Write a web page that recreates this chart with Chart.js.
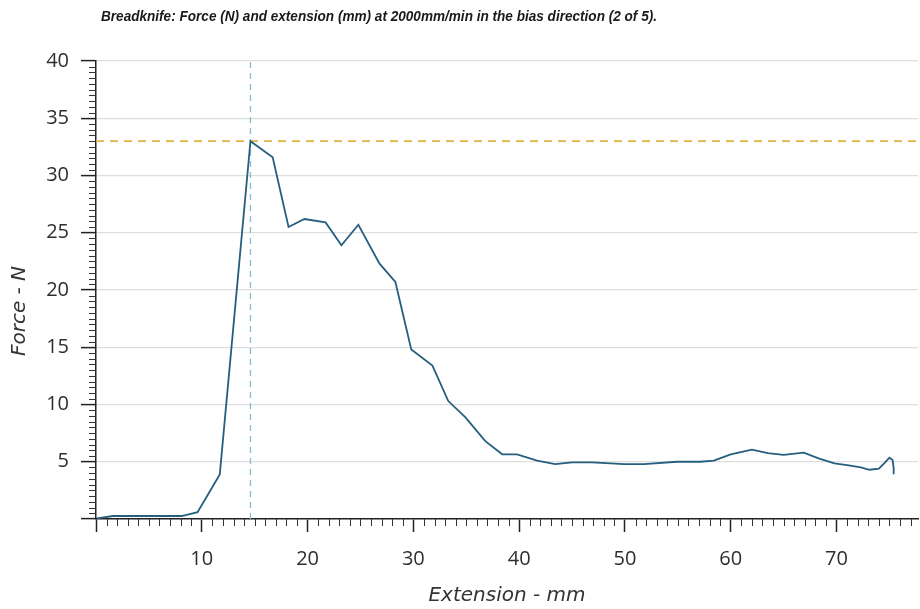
<!DOCTYPE html>
<html>
<head>
<meta charset="utf-8">
<title>Breadknife force / extension</title>
<script src="https://cdn.jsdelivr.net/npm/chart.js@4.4.1/dist/chart.umd.min.js"></script>
<style>
  html, body { margin: 0; padding: 0; background: #fff; }
  #wrap { width: 920px; height: 609px; }
</style>
</head>
<body>
<div id="wrap"><canvas id="chart" width="920" height="609"></canvas></div>
<script>
const heading = 'Breadknife: Force (N) and extension (mm) at 2000mm/min in the bias direction (2 of 5).';
const xTitle = 'Extension - mm';
const yTitle = 'Force - N';

// test run 2 of 5, sampled along the trace
const extensionMm = [0.1, 1.6, 8.1, 9.6, 11.7, 14.6, 16.7, 18.2, 19.7, 21.7, 23.2, 24.8, 26.8, 28.3,
  29.8, 31.8, 33.3, 34.9, 36.8, 38.4, 39.8, 41.7, 43.4, 45.0, 46.9, 49.9, 51.8, 54.9, 57.1, 58.4,
  60.0, 62.0, 63.5, 65.0, 66.9, 68.3, 69.8, 71.0, 72.3, 73.1, 74.0, 74.5, 75.0, 75.3, 75.4, 75.4];
const forceN = [0.05, 0.26, 0.26, 0.6, 3.9, 33.0, 31.6, 25.5, 26.2, 25.9, 23.9, 25.7, 22.3, 20.7,
  14.8, 13.4, 10.3, 8.9, 6.8, 5.65, 5.65, 5.1, 4.8, 4.95, 4.95, 4.8, 4.8, 5.0, 5.0, 5.1,
  5.65, 6.05, 5.75, 5.6, 5.8, 5.3, 4.85, 4.7, 4.5, 4.3, 4.4, 4.85, 5.35, 5.15, 4.45, 3.9];

// cursor lines through the maximum
const peakExtension = 14.6;
const peakForce = 33.0;

const xMin = 0, xMax = 77.7, xStep = 10, xMinorStep = 1;
const yMin = 0, yMax = 40, yStep = 5, yMinorStep = 0.5;

const trace = extensionMm.map((x, i) => ({ x: x, y: forceN[i] }));

const tickFont = { family: '"Open Sans", "DejaVu Sans", sans-serif', size: 20 };
const titleFont = { family: '"DejaVu Sans", sans-serif', size: 20, style: 'italic' };

// small ticks between the labelled ones
const minorTicks = {
  id: 'minorTicks',
  afterDraw(chart) {
    const { ctx, chartArea } = chart;
    const x = chart.scales.x, y = chart.scales.y;
    ctx.save();
    ctx.strokeStyle = '#333';
    ctx.lineWidth = 1;
    ctx.beginPath();
    for (let i = 1; i * xMinorStep < xMax; i++) {
      const v = i * xMinorStep;
      if (Math.abs(v % xStep) < 1e-6) continue;
      const px = Math.round(x.getPixelForValue(v)) + 0.5;
      ctx.moveTo(px, chartArea.bottom);
      ctx.lineTo(px, chartArea.bottom + 7);
    }
    for (let i = 1; i * yMinorStep < yMax; i++) {
      const v = i * yMinorStep;
      if (Math.abs(v % yStep) < 1e-6) continue;
      const py = Math.round(y.getPixelForValue(v)) + 0.5;
      ctx.moveTo(chartArea.left - 7, py);
      ctx.lineTo(chartArea.left, py);
    }
    ctx.stroke();
    ctx.restore();
  }
};

// page heading and the rotated force caption
const captions = {
  id: 'captions',
  afterDraw(chart) {
    const { ctx, chartArea } = chart;
    ctx.save();
    ctx.fillStyle = '#1a1a1a';
    ctx.font = 'italic bold 14px "Liberation Sans", Arial, sans-serif';
    const w = ctx.measureText(heading).width;
    ctx.translate(101, 21);
    ctx.scale(556 / w, 1);
    ctx.fillText(heading, 0, 0);
    ctx.restore();

    ctx.save();
    ctx.fillStyle = '#333';
    ctx.font = 'italic 20px "DejaVu Sans", sans-serif';
    ctx.textAlign = 'center';
    ctx.textBaseline = 'middle';
    ctx.translate(20, (chartArea.top + chartArea.bottom) / 2 + 21);
    ctx.rotate(-Math.PI / 2);
    ctx.fillText(yTitle, 0, 0);
    ctx.restore();
  }
};

new Chart(document.getElementById('chart'), {
  type: 'scatter',
  data: {
    datasets: [
      {
        data: trace,
        showLine: true,
        borderColor: '#265f7e',
        borderWidth: 1.8,
        pointRadius: 0,
        tension: 0,
        order: 1
      },
      {
        data: [{ x: xMin, y: peakForce }, { x: xMax, y: peakForce }],
        showLine: true,
        borderColor: '#e2b445',
        borderWidth: 1.6,
        borderDash: [8, 6],
        pointRadius: 0,
        order: 2
      },
      {
        data: [{ x: peakExtension, y: yMin }, { x: peakExtension, y: yMax }],
        showLine: true,
        borderColor: '#86bcd2',
        borderWidth: 1.3,
        borderDash: [6, 5],
        pointRadius: 0,
        order: 3
      }
    ]
  },
  options: {
    responsive: false,
    animation: false,
    events: [],
    layout: { padding: { top: 61, right: 2, left: 0, bottom: 0 } },
    plugins: {
      legend: { display: false },
      tooltip: { enabled: false }
    },
    scales: {
      x: {
        type: 'linear',
        min: xMin,
        max: xMax,
        afterFit(scale) { scale.height = 90; },
        border: { color: '#222', width: 1.5 },
        grid: { drawOnChartArea: false, drawTicks: true, tickLength: 13, tickColor: '#222', tickWidth: 1.5 },
        ticks: {
          stepSize: xStep,
          includeBounds: false,
          padding: 15,
          color: '#2e2e2e',
          font: tickFont,
          maxRotation: 0,
          callback: v => (v === 0 ? '' : v)
        },
        title: {
          display: true,
          text: xTitle,
          color: '#333',
          font: titleFont,
          padding: { top: 0, bottom: 1 }
        }
      },
      y: {
        type: 'linear',
        min: yMin,
        max: yMax,
        afterFit(scale) { scale.width = 96; },
        border: { color: '#222', width: 1.5 },
        grid: { color: '#dedede', lineWidth: 1.2, tickLength: 15, tickColor: '#222', tickWidth: 1.5 },
        ticks: {
          stepSize: yStep,
          padding: 12,
          color: '#2e2e2e',
          font: tickFont,
          callback: v => (v === 0 ? '' : v)
        }
      }
    }
  },
  plugins: [minorTicks, captions]
});
</script>
</body>
</html>
